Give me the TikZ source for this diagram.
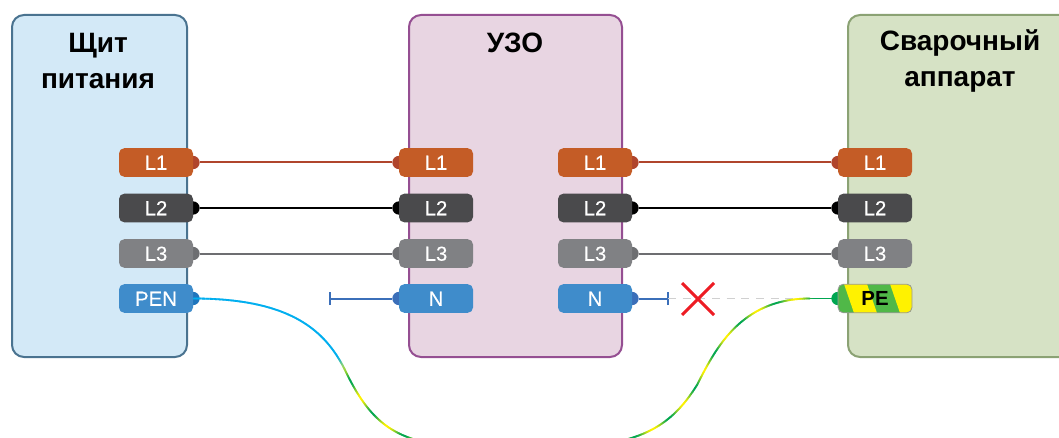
\documentclass[tikz,border=0pt]{standalone}
\usepackage{fontspec}
\setmainfont{Liberation Sans}
\newfontfamily\tabfont[FakeBold=0.25]{Liberation Sans}
\usetikzlibrary{decorations.markings}
\definecolor{cL1}{HTML}{C45C26}\definecolor{dL1}{HTML}{B0452C}
\definecolor{cL2}{HTML}{4A4A4C}\definecolor{dL2}{HTML}{000000}
\definecolor{cL3}{HTML}{808184}\definecolor{dL3}{HTML}{6D6E71}
\definecolor{cN}{HTML}{3F8CCB}\definecolor{dN}{HTML}{3B6FB9}
\definecolor{dPEN}{HTML}{1F75BC}
\definecolor{wblue}{HTML}{00AEEF}\definecolor{wgreen}{HTML}{00A651}\definecolor{wyellow}{HTML}{FFF200}
\definecolor{tabgreen}{HTML}{50B848}
\definecolor{pAd}{HTML}{4A7390}\definecolor{pAf}{HTML}{D3E9F7}
\definecolor{pBd}{HTML}{954F92}\definecolor{pBf}{HTML}{E8D5E2}
\definecolor{pCd}{HTML}{8BA274}\definecolor{pCf}{HTML}{D6E2C5}
\definecolor{xred}{HTML}{ED1C24}\definecolor{dashgrey}{HTML}{D0D0D0}\definecolor{peborder}{HTML}{9A9A9A}
\tikzset{
  panel/.style 2 args={draw=#1,fill=#2,line width=1.5pt,rounded corners=9pt},
  tab/.style={fill=#1,rounded corners=4pt,minimum width=55.5pt,minimum height=21.5pt,inner sep=0pt,
    text=white,font=\tabfont\fontsize{15.3}{15.3}\selectfont,text height=10.9pt,text depth=0pt},
  pin/.style={circle,fill=#1,minimum size=10pt,inner sep=0pt},
  wire/.style={draw=#1,line width=1.5pt},
  head/.style={font=\bfseries\fontsize{21}{27}\selectfont,align=center,inner sep=0pt},
  endtick/.style={draw=dN,line width=1.5pt},
  gwire/.style={decorate,decoration={markings,
    mark=between positions 0 and 1 step 0.6pt with {%
      \pgfmathsetmacro\sd{\pgfkeysvalueof{/pgf/decoration/mark info/distance from start}}%
      \pgfmathsetmacro\ed{\pgfdecoratedpathlength-\sd}%
      \pgfmathsetmacro\g{\sd<\ed ? 50+50*cos((\sd-143)/29*360) : (\ed<18 ? 100 : 50+50*cos((\ed-18)/30*360))}%
      \pgfmathsetmacro\b{\sd<122 ? 100 : (\sd<136 ? (136-\sd)/14*100 : 0)}%
      \colorlet{wc}{wgreen!\g!wyellow}\colorlet{wc}{wblue!\b!wc}%
      \fill[wc] (-0.45pt,-0.68pt) rectangle (0.45pt,0.68pt);}}},
}
\begin{document}
\begin{tikzpicture}[x=0.75pt,y=-0.75pt]
\clip (0,0) rectangle (1059,438);
% panels
\draw[panel={pAd}{pAf}] (12,15) rectangle (187,357);
\draw[panel={pBd}{pBf}] (409,15) rectangle (622,357);
\draw[panel={pCd}{pCf}] (848,15) rectangle (1090,357);
\node[head] (tA) at (98,61) {Щит\\питания};
\node[head] (tB) at (515,43) {УЗО};
\node[head] (tC) at (960,61) {Сварочный\\аппарат};
% pins
\foreach \n/\y/\c in {L1/162.5/dL1,L2/208/dL2,L3/253.5/dL3}{
  \node[pin=\c] (pa\n) at (193,\y) {};
  \node[pin=\c] (pb\n) at (399,\y) {};
  \node[pin=\c] (pc\n) at (632,\y) {};
  \node[pin=\c] (pd\n) at (838,\y) {};
  \draw[wire=\c] (pa\n) -- (pb\n);
  \draw[wire=\c] (pc\n) -- (pd\n);
}
\node[pin=dPEN] (paN) at (193,298.5) {};
\node[pin=dN] (pbN) at (399,298.5) {};
\node[pin=dN] (pcN) at (632,298.5) {};
\node[pin=wgreen] (pdN) at (838,298.5) {};
% cut neutral ends
\coordinate (nl) at (330,298.5);
\coordinate (nr) at (668,298.5);
\draw[wire=dN] (pbN) -- (nl);
\draw[endtick] ([yshift=-4.9pt]nl) -- ([yshift=4.9pt]nl);
\draw[wire=dN] (pcN) -- (nr);
\draw[endtick] ([yshift=-4.9pt]nr) -- ([yshift=4.9pt]nr);
\draw[draw=dashgrey,line width=1pt,dash pattern=on 6pt off 5pt] (nr) -- (pdN);
% PEN-PE cable
\path[gwire] (paN.center) .. controls (290,298.5) and (325,330) .. (345,370)
  .. controls (365,412) and (385,432) .. (420,441)
  -- (620,441) .. controls (660,432) and (680,412) .. (697,385)
  .. controls (715,350) and (740,298.5) .. (810,298.5) -- (pdN.center);
% red cross
\draw[draw=xred,line width=2.3pt] (682,283) -- (714,315) (714,283) -- (682,315);
% tabs
\foreach \n/\y/\c in {L1/162.5/cL1,L2/208/cL2,L3/253.5/cL3}{
  \node[tab=\c] (a\n) at (156,\y) {\n};
  \node[tab=\c] (b\n) at (436,\y) {\n};
  \node[tab=\c] (c\n) at (595,\y) {\n};
  \node[tab=\c] (d\n) at (875,\y) {\n};
}
\node[tab=cN] (aN) at (156,298.5) {PEN};
\node[tab=cN] (bN) at (436,298.5) {N};
\node[tab=cN] (cN) at (595,298.5) {N};
\begin{scope}
  \clip[rounded corners=4pt] (838,284) rectangle (912,313);
  \fill[tabgreen] (838,284) rectangle (912,313);
  \fill[wyellow] (844,284) -- (867,284) -- (877,313) -- (854,313) -- cycle;
  \fill[wyellow] (890,284) -- (914,284) -- (914,313) -- (900,313) -- cycle;
\end{scope}
\node[tab=none,draw=peborder,line width=0.6pt,text=black,font=\bfseries\fontsize{15.3}{15.3}\selectfont] (dPE) at (875,298.5) {PE};
\end{tikzpicture}
\end{document}
